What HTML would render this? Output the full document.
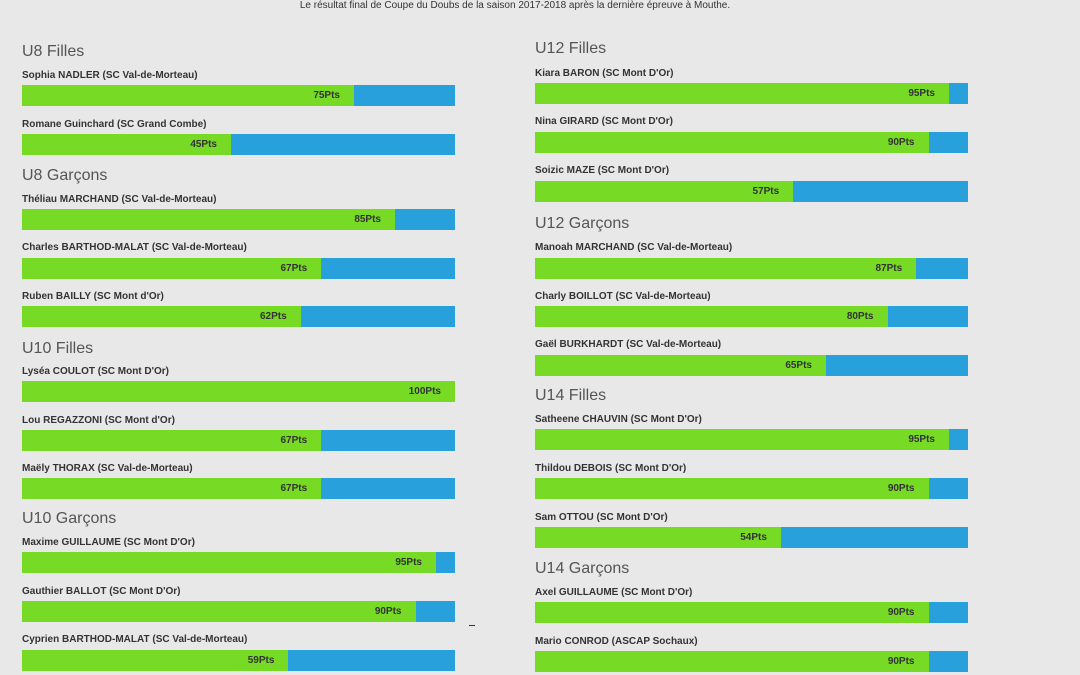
<!DOCTYPE html><html><head><meta charset="utf-8"><style>
body{margin:0;width:1080px;height:675px;background:#e8e8e8;position:relative;overflow:hidden;font-family:"Liberation Sans Narrow","Liberation Sans",sans-serif}
.t{position:absolute;left:0;width:1030px;top:0;text-align:center;font-size:10px;color:#333}
.h{position:absolute;font-size:16px;color:#555;line-height:16px}
.n{position:absolute;font-size:10px;font-weight:bold;color:#333;line-height:10px}
.b{position:absolute;width:433px;height:21px;background:#27a0dc}
.g{position:absolute;left:0;top:0;height:21px;background:#77da24}
.g span{position:absolute;right:14px;top:5px;font-size:10px;font-weight:bold;color:#333;line-height:11px}
</style></head><body>
<div class="t">Le résultat final de Coupe du Doubs de la saison 2017-2018 après la dernière épreuve à Mouthe.</div>
<div id="c"></div>
<script>
var L=[["h",42,"U8 Filles"],["p",69,85,"Sophia NADLER (SC Val-de-Morteau)",75],["p",118,134,"Romane Guinchard (SC Grand Combe)",45],
["h",166,"U8 Garçons"],["p",193,209,"Théliau MARCHAND (SC Val-de-Morteau)",85],["p",241,258,"Charles BARTHOD-MALAT (SC Val-de-Morteau)",67],["p",290,306,"Ruben BAILLY (SC Mont d'Or)",62],
["h",339,"U10 Filles"],["p",365,381,"Lyséa COULOT (SC Mont D'Or)",100],["p",414,430,"Lou REGAZZONI (SC Mont d'Or)",67],["p",462,478,"Maëly THORAX (SC Val-de-Morteau)",67],
["h",509,"U10 Garçons"],["p",536,552,"Maxime GUILLAUME (SC Mont D'Or)",95],["p",585,601,"Gauthier BALLOT (SC Mont D'Or)",90],["p",633,650,"Cyprien BARTHOD-MALAT (SC Val-de-Morteau)",59]];
var R=[["h",39,"U12 Filles"],["p",67,83,"Kiara BARON (SC Mont D'Or)",95],["p",115,132,"Nina GIRARD (SC Mont D'Or)",90],["p",164,181,"Soizic MAZE (SC Mont D'Or)",57],
["h",214,"U12 Garçons"],["p",241,258,"Manoah MARCHAND (SC Val-de-Morteau)",87],["p",290,306,"Charly BOILLOT (SC Val-de-Morteau)",80],["p",338,355,"Gaël BURKHARDT (SC Val-de-Morteau)",65],
["h",386,"U14 Filles"],["p",413,429,"Satheene CHAUVIN (SC Mont D'Or)",95],["p",462,478,"Thildou DEBOIS (SC Mont D'Or)",90],["p",511,527,"Sam OTTOU (SC Mont D'Or)",54],
["h",559,"U14 Garçons"],["p",586,602,"Axel GUILLAUME (SC Mont D'Or)",90],["p",635,651,"Mario CONROD (ASCAP Sochaux)",90]];
var h="";
function go(a,x){a.forEach(function(e){if(e[0]=="h")h+='<div class="h" style="left:'+x+'px;top:'+(e[1]+2)+'px">'+e[2]+'</div>';
else{h+='<div class="n" style="left:'+x+'px;top:'+(e[1]+2)+'px">'+e[3]+'</div><div class="b" style="left:'+x+'px;top:'+e[2]+'px"><div class="g" style="width:'+Math.min(433,24.5+4.1*e[4])+'px"><span>'+e[4]+'Pts</span></div></div>';}});}
go(L,22);go(R,535);
h+='<div style="position:absolute;left:469px;top:625px;width:6px;height:1px;background:#333"></div>';
document.getElementById("c").innerHTML=h;
</script></body></html>
